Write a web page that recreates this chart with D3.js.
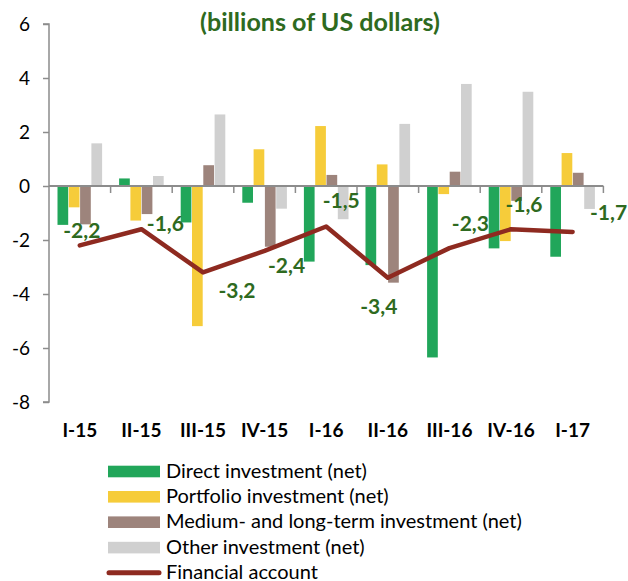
<!DOCTYPE html>
<html>
<head>
<meta charset="utf-8">
<script src="https://cdn.jsdelivr.net/npm/d3@7/dist/d3.min.js"></script>
<style>
  html, body { margin: 0; padding: 0; background: #fff; }
  svg { display: block; font-family: Lato, "Open Sans", sans-serif; }
</style>
</head>
<body>
<svg id="chart" width="628" height="581"></svg>
<script>
// ---- data ----
const categories = ["I-15", "II-15", "III-15", "IV-15", "I-16", "II-16", "III-16", "IV-16", "I-17"];
const directInvestment    = [-1.44, 0.28, -1.35, -0.62, -2.80, -2.93, -6.35, -2.31, -2.62];
const portfolioInvestment = [-0.79, -1.28, -5.19, 1.36, 2.22, 0.80, -0.30, -2.04, 1.22];
const mediumLongInvestment = [-1.42, -1.04, 0.77, -2.25, 0.41, -3.58, 0.53, -0.55, 0.49];
const otherInvestment     = [1.58, 0.37, 2.65, -0.84, -1.23, 2.30, 3.78, 3.49, -0.85];
const financialAccount    = [-2.2, -1.6, -3.2, -2.4, -1.5, -3.4, -2.3, -1.6, -1.7];
const financialLabels     = ["-2,2", "-1,6", "-3,2", "-2,4", "-1,5", "-3,4", "-2,3", "-1,6", "-1,7"];
const yTicks = [6, 4, 2, 0, -2, -4, -6, -8];
const seriesNames = ["Direct investment (net)", "Portfolio investment (net)",
                     "Medium- and long-term investment (net)", "Other investment (net)"];
const lineName = "Financial account";
const titleText = "(billions of US dollars)";

// ---- styling / layout ----
const colors = ["#21a65a", "#f6cc3a", "#9d847c", "#d0d0d0"];
const lineColor = "#8e2a20";
const labelColor = "#2e6a20";
const axisColor = "#8c8c8c";
// manual label offsets (dx, dy) from each line point, as placed in the original
const labelOffsets = [[2,-14],[24,-5],[34,19],[22,15],[15,-26],[-9,29],[21,-24],[13,-24],[36,-19]];

const svg = d3.select("#chart");
const x0 = 49, x1 = 603.4, yTop = 24, yBot = 402;

const x = d3.scaleBand().domain(categories).range([x0, x1]).padding(0);
const xs = d3.scaleBand().domain(d3.range(4)).range([8.2, x.bandwidth() - 8.2]).padding(0);
const y = d3.scaleLinear().domain([-8, 6]).range([yBot, yTop]);

const series = [directInvestment, portfolioInvestment, mediumLongInvestment, otherInvestment];

function fitFont(sel, target) {
  const node = sel.node();
  const fs = parseFloat(sel.attr("font-size"));
  const w = node.getComputedTextLength();
  sel.attr("font-size", (fs * target / w).toFixed(2));
}

// title
const title = svg.append("text")
  .attr("x", 320).attr("y", 30.5).attr("text-anchor", "middle")
  .attr("font-size", 22).attr("font-weight", "bold").attr("fill", labelColor)
  .text(titleText);
fitFont(title, 240);

// bars
const gBars = svg.append("g");
series.forEach((vals, si) => {
  gBars.selectAll(null).data(vals).join("rect")
    .attr("x", (d, i) => x(categories[i]) + xs(si) + 0.3)
    .attr("width", xs.bandwidth() - 0.6)
    .attr("y", d => y(Math.max(0, d)))
    .attr("height", d => Math.abs(y(d) - y(0)))
    .attr("fill", colors[si]);
});

// y axis
const yAxis = d3.axisLeft(y).tickValues(yTicks).tickSize(6).tickPadding(13).tickFormat(d3.format("d"));
const gy = svg.append("g").attr("transform", `translate(${x0},0)`).call(yAxis);
gy.select(".domain").attr("stroke", axisColor).attr("stroke-width", 1.5).attr("d", `M-6,${yTop}H0V${yBot}H-6`);
gy.selectAll(".tick line").attr("stroke", axisColor).attr("stroke-width", 1.5);
gy.selectAll(".tick text").attr("font-size", 19).attr("font-family", "Lato, sans-serif").attr("fill", "#000")
  .text(d => d < 0 ? "-" + Math.abs(d) : d);

// x axis at zero
const boundaries = categories.map(c => x(c)).concat([x1]);
svg.append("line").attr("x1", x0).attr("x2", x1).attr("y1", y(0)).attr("y2", y(0))
  .attr("stroke", axisColor).attr("stroke-width", 1.8);
svg.append("g").selectAll("line").data(boundaries.slice(1)).join("line")
  .attr("x1", d => d).attr("x2", d => d).attr("y1", y(0)).attr("y2", y(0) + 7)
  .attr("stroke", axisColor).attr("stroke-width", 1.5);

// category labels
svg.append("g").selectAll("text").data(categories).join("text")
  .attr("x", d => x(d) + x.bandwidth() / 2).attr("y", 437)
  .attr("text-anchor", "middle").attr("font-size", 19).attr("font-weight", "bold").attr("fill", "#000")
  .text(d => d);

// line
const pts = financialAccount.map((v, i) => [x(categories[i]) + x.bandwidth() / 2, y(v)]);
svg.append("path").attr("d", d3.line()(pts))
  .attr("fill", "none").attr("stroke", lineColor).attr("stroke-width", 4.5)
  .attr("stroke-linejoin", "round").attr("stroke-linecap", "round");

// data labels
svg.append("g").selectAll("text").data(financialLabels).join("text")
  .attr("x", (d, i) => pts[i][0] + labelOffsets[i][0])
  .attr("y", (d, i) => pts[i][1] + labelOffsets[i][1] + 7)
  .attr("text-anchor", "middle").attr("font-size", 21).attr("font-weight", "bold").attr("fill", labelColor)
  .text(d => d);

// legend
const legY = [471.5, 496.8, 522.2, 547.6, 572.8];
const leg = svg.append("g");
seriesNames.forEach((name, i) => {
  leg.append("rect").attr("x", 108).attr("y", legY[i] - 5.8).attr("width", 52).attr("height", 11.6).attr("fill", colors[i]);
});
leg.append("line").attr("x1", 109).attr("x2", 159).attr("y1", legY[4]).attr("y2", legY[4])
  .attr("stroke", lineColor).attr("stroke-width", 5).attr("stroke-linecap", "round");
const legTexts = seriesNames.concat([lineName]).map((name, i) =>
  leg.append("text").attr("x", 166).attr("y", legY[i] + 6.2).attr("font-size", 18).attr("fill", "#000").text(name));
// fit legend font to the longest entry width
const probe = legTexts[2];
const w = probe.node().getComputedTextLength();
const fs = (18 * 356 / w).toFixed(2);
legTexts.forEach(t => t.attr("font-size", fs));
</script>
</body>
</html>
